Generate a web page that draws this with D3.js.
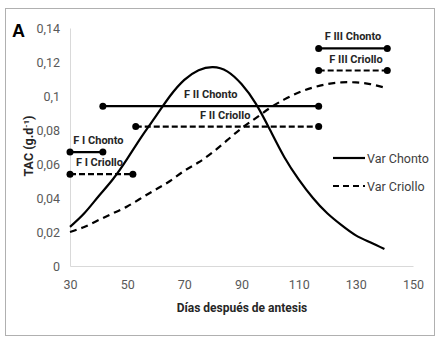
<!DOCTYPE html>
<html>
<head>
<meta charset="utf-8">
<script src="https://cdn.jsdelivr.net/npm/d3@7"></script>
<style>
  body { margin: 0; background: #fff; }
  svg text { font-family: Roboto, "Open Sans", sans-serif; }
</style>
</head>
<body>
<div id="chart"></div>
<script>
// TAC curves for the two varieties, every 5 days
const days = [30, 35, 40, 45, 50, 55, 60, 65, 70, 75, 80, 85, 90, 95, 100, 105, 110, 115, 120, 125, 130, 135, 140];
const chontoTAC = [0.023, 0.031, 0.041, 0.051, 0.063, 0.076, 0.088, 0.100, 0.1095, 0.1152, 0.117, 0.1145, 0.107, 0.0955, 0.080, 0.064, 0.051, 0.040, 0.031, 0.024, 0.018, 0.014, 0.010];
const criolloTAC = [0.020, 0.023, 0.027, 0.031, 0.035, 0.040, 0.045, 0.050, 0.056, 0.061, 0.067, 0.074, 0.081, 0.087, 0.093, 0.098, 0.102, 0.105, 0.107, 0.108, 0.108, 0.107, 0.105];

// growth phases (start day, end day, level)
const phaseLabels = ["F I Chonto", "F I Criollo", "F II Chonto", "F II Criollo", "F III Chonto", "F III Criollo"];
const phaseVariety = ["Chonto", "Criollo", "Chonto", "Criollo", "Chonto", "Criollo"];
const phaseStart = [30, 30, 41.5, 53, 117, 117];
const phaseEnd = [41.5, 52, 117, 117, 141, 141];
const phaseLevel = [0.067, 0.054, 0.094, 0.082, 0.128, 0.115];

const xTicks = [30, 50, 70, 90, 110, 130, 150];
const yTicks = [0, 0.02, 0.04, 0.06, 0.08, 0.1, 0.12, 0.14];
const legendLabels = ["Var Chonto", "Var Criollo"];

const width = 442, height = 345;
const margin = {top: 28, right: 29, bottom: 79, left: 70};
const innerWidth = width - margin.left - margin.right;
const innerHeight = height - margin.top - margin.bottom;

const svg = d3.select("#chart").append("svg")
    .attr("width", width)
    .attr("height", height);

// outer frame
svg.append("rect")
    .attr("x", 5.5).attr("y", 8.5)
    .attr("width", 429).attr("height", 327)
    .attr("fill", "#fff")
    .attr("stroke", "#b0b0b0");

const g = svg.append("g")
    .attr("transform", `translate(${margin.left}, ${margin.top})`);

const x = d3.scaleLinear().domain([30, 150]).range([0, innerWidth]);
const y = d3.scaleLinear().domain([0, 0.14]).range([innerHeight, 0]);

const fmt = v => String(v).replace(".", ",");

const xAxis = g.append("g")
    .attr("transform", `translate(0, ${innerHeight})`)
    .call(d3.axisBottom(x).tickValues(xTicks).tickSize(0).tickPadding(14).tickFormat(d => d));
const yAxis = g.append("g")
    .call(d3.axisLeft(y).tickValues(yTicks).tickSize(0).tickPadding(10).tickFormat(fmt));

[xAxis, yAxis].forEach(a => {
    a.select(".domain").attr("stroke", "#d9d9d9");
    a.selectAll("text").attr("fill", "#595959").style("font-size", "12.5px")
        .style("font-family", "Roboto, 'Open Sans', sans-serif");
});

// axis titles
svg.append("text")
    .attr("x", 242).attr("y", 312)
    .attr("text-anchor", "middle")
    .attr("font-weight", "bold")
    .attr("font-size", 12)
    .attr("fill", "#262626")
    .text("Días después de antesis");

svg.append("text")
    .attr("transform", "translate(33, 146) rotate(-90)")
    .attr("text-anchor", "middle")
    .attr("font-weight", "bold")
    .attr("font-size", 12.5)
    .attr("fill", "#262626")
    .html('TAC (g.d<tspan dy="-4" font-size="8">-1</tspan><tspan dy="4">)</tspan>');

svg.append("text")
    .attr("x", 12).attr("y", 37)
    .attr("font-weight", "bold")
    .attr("font-size", 18)
    .style("font-family", "'Liberation Sans', Arial, sans-serif")
    .text("A");

// curves
const line = d3.line()
    .x(d => x(d[0]))
    .y(d => y(d[1]))
    .curve(d3.curveNatural);

g.append("path")
    .datum(days.map((d, i) => [d, chontoTAC[i]]))
    .attr("d", line)
    .attr("fill", "none")
    .attr("stroke", "#000")
    .attr("stroke-width", 2.2);

g.append("path")
    .datum(days.map((d, i) => [d, criolloTAC[i]]))
    .attr("d", line)
    .attr("fill", "none")
    .attr("stroke", "#000")
    .attr("stroke-width", 2.2)
    .attr("stroke-dasharray", "7,5");

// phase bars
const phases = phaseLabels.map((label, i) => ({
    label, variety: phaseVariety[i], start: phaseStart[i], end: phaseEnd[i], level: phaseLevel[i]
}));
const labelShift = [12, -2, 0, -2, 0, 3];

const pg = g.selectAll(".phase")
    .data(phases)
    .join("g")
    .attr("class", "phase");

pg.append("line")
    .attr("x1", d => x(d.start))
    .attr("x2", d => x(d.end))
    .attr("y1", d => y(d.level))
    .attr("y2", d => y(d.level))
    .attr("stroke", "#000")
    .attr("stroke-width", 2.2)
    .attr("stroke-dasharray", d => d.variety === "Criollo" ? "6,3" : null);

pg.selectAll("circle")
    .data(d => [[d.start, d.level], [d.end, d.level]])
    .join("circle")
    .attr("cx", d => x(d[0]))
    .attr("cy", d => y(d[1]))
    .attr("r", 3.5)
    .attr("fill", "#000");

pg.append("text")
    .attr("x", (d, i) => x((d.start + d.end) / 2) + labelShift[i])
    .attr("y", d => y(d.level) - 8)
    .attr("text-anchor", "middle")
    .attr("font-weight", "bold")
    .attr("font-size", 11)
    .attr("fill", "#262626")
    .text(d => d.label);

// legend
const legend = svg.append("g")
    .attr("transform", "translate(333, 158)");

legend.selectAll("g")
    .data(legendLabels)
    .join("g")
    .attr("transform", (d, i) => `translate(0, ${i * 28})`)
    .each(function(d, i) {
        const item = d3.select(this);
        item.append("line")
            .attr("x1", 0).attr("x2", 32)
            .attr("stroke", "#000")
            .attr("stroke-width", 2.2)
            .attr("stroke-dasharray", i === 1 ? "6,4" : null);
        item.append("text")
            .attr("x", 34).attr("y", 4.5)
            .attr("font-size", 12.5)
            .attr("fill", "#404040")
            .text(d);
    });
</script>
</body>
</html>
